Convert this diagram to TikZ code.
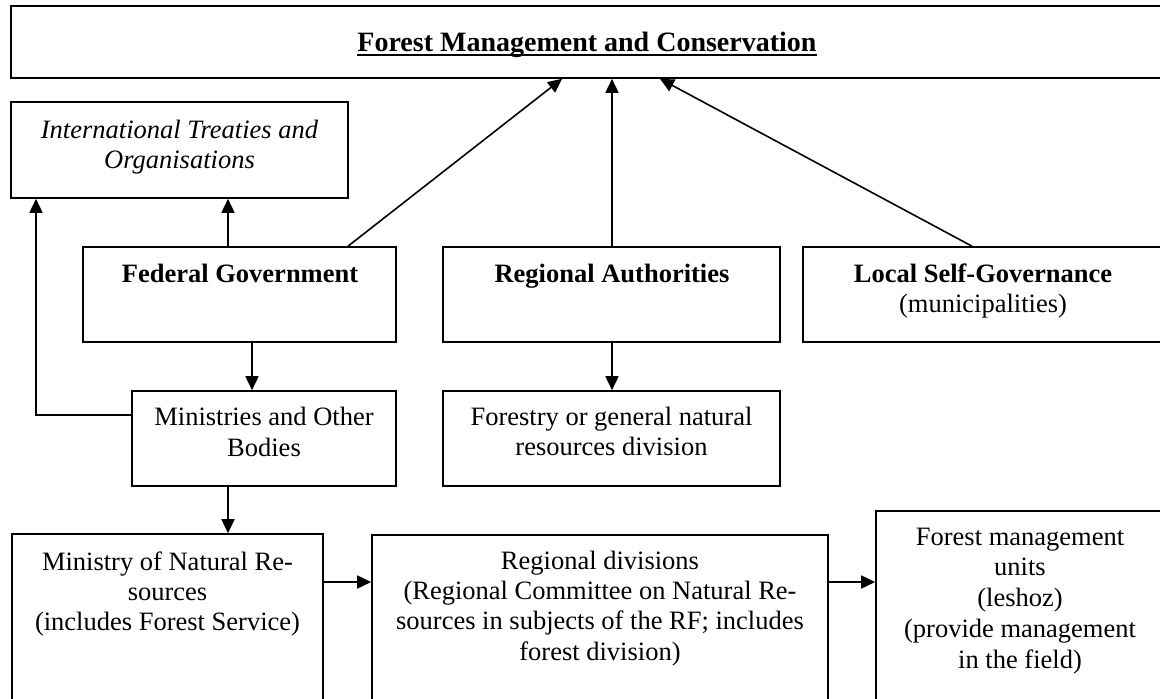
\documentclass[tikz,border=0pt]{standalone}
\usepackage{fontspec}
\setmainfont{Liberation Serif}
\usetikzlibrary{arrows.meta,fit,calc}
\newcommand{\myul}[1]{\setbox0\hbox{#1}\rlap{\rule[-4.5pt]{\wd0}{1.8pt}}\box0}
\tikzset{
  box/.style={draw=black, line width=1.6pt, inner sep=0pt, fill=none},
  txt/.style={align=center, inner sep=0pt, anchor=base, font=\fontsize{26.5}{31}\selectfont},
  conn/.style={line width=1.6pt},
  arr/.style={conn, -{Triangle[length=14pt,width=13pt]}}
}
\begin{document}
\begin{tikzpicture}[x=1pt,y=-1pt]
\clip (0,0) rectangle (1160,699);
\fill[white] (0,0) rectangle (1160,699);
% boxes
\node[box, fit={(11,6) (1163,78)}] (top) {};
\node[box, fit={(11,102) (348,198)}] (intl) {};
\node[box, fit={(83,247) (396,342)}] (fg) {};
\node[box, fit={(443,247) (780,342)}] (ra) {};
\node[box, fit={(803,247) (1163,342)}] (ls) {};
\node[box, fit={(132,391) (396,486)}] (mob) {};
\node[box, fit={(443,391) (780,486)}] (frd) {};
\node[box, fit={(12,534) (323,730)}] (mnr) {};
\node[box, fit={(372,535) (828,730)}] (rd) {};
\node[box, fit={(876,511) (1163,730)}] (fmu) {};
% texts (anchor base = baseline of last line)
\node[txt, font=\fontsize{28}{32}\selectfont\bfseries] (topt) at (587,51) {\myul{Forest Management and Conservation}};
\node[txt, font=\fontsize{26.5}{30}\selectfont\itshape] (intlt) at (179.5,168) {International Treaties and\\Organisations};
\node[txt, font=\fontsize{26.5}{31}\selectfont\bfseries] (fgt) at (240,282) {Federal Government};
\node[txt, font=\fontsize{26.5}{31}\selectfont\bfseries] (rat) at (612,282) {Regional Authorities};
\node[txt, font=\fontsize{26.5}{30}\selectfont] (lst) at (983,312) {\textbf{Local Self-Governance}\\(municipalities)};
\node[txt] (mobt) at (264,456) {Ministries and Other\\Bodies};
\node[txt, font=\fontsize{26.5}{30}\selectfont] (frdt) at (611.5,455) {Forestry or general natural\\resources division};
\node[txt, font=\fontsize{26.5}{30}\selectfont] (mnrt) at (167.5,630) {Ministry of Natural Re-\\sources\\(includes Forest Service)};
\node[txt, font=\fontsize{26.5}{30.3}\selectfont] (rdt) at (600,660) {Regional divisions\\(Regional Committee on Natural Re-\\sources in subjects of the RF; includes\\forest division)};
\node[txt, font=\fontsize{26.5}{30.7}\selectfont] (fmut) at (1020,668) {Forest management\\units\\(leshoz)\\(provide management\\in the field)};
% connectors
\draw[arr] (fg.north -| 348,0) -- (top.south -| 562,0);
\draw[arr] (ra.north -| 612,0) -- (top.south -| 612,0);
\draw[arr] (ls.north -| 972,0) -- (top.south -| 660,0);
\draw[arr] (fg.north -| 228,0) -- (intl.south -| 228,0);
\draw[arr] (fg.south -| 252,0) -- (mob.north -| 252,0);
\draw[arr] (mob.west |- 0,415) -| (intl.south -| 36,0);
\draw[arr] (mob.south -| 228,0) -- (mnr.north -| 228,0);
\draw[arr] (ra.south -| 612,0) -- (frd.north -| 612,0);
\draw[arr] (mnr.east |- 0,582) -- (rd.west |- 0,582);
\draw[arr] (rd.east |- 0,582) -- (fmu.west |- 0,582);
\end{tikzpicture}
\end{document}
